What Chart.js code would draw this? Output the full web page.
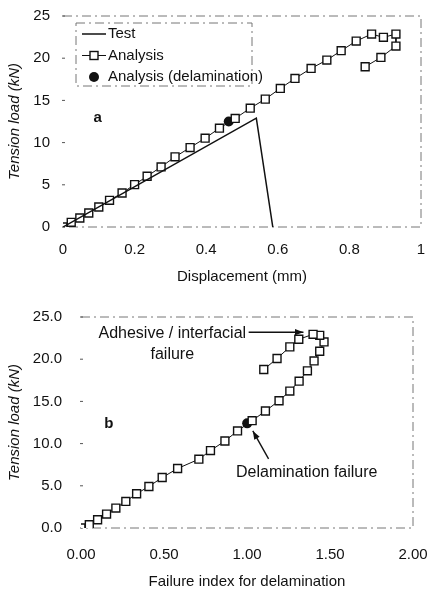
<!DOCTYPE html>
<html>
<head>
<meta charset="utf-8">
<script src="https://cdn.jsdelivr.net/npm/chart.js@4/dist/chart.umd.min.js"></script>
<style>
    body { margin: 0; background: #fff; width: 430px; height: 591px; overflow: hidden; }
    .box { position: absolute; left: 0; width: 430px; }
    #boxA { top: 0; height: 290px; }
    #boxB { top: 290px; height: 301px; }
</style>
</head>
<body>
<div class="box" id="boxA"><canvas id="chartA"></canvas></div>
<div class="box" id="boxB"><canvas id="chartB"></canvas></div>
<script>

/* Data: (a) load vs displacement */

const testDisp = [0, 0.54, 0.586];
const testLoad = [0, 12.9, 0];

const analysisDisp = [0, 0.023, 0.047, 0.072, 0.10, 0.13, 0.165, 0.20, 0.235, 0.274, 0.313, 0.355, 0.397, 0.437, 0.481, 0.523, 0.565, 0.607, 0.648, 0.693, 0.737, 0.777, 0.819, 0.862, 0.895, 0.930, 0.930, 0.888, 0.844];
const analysisLoadA = [0, 0.55, 1.07, 1.66, 2.37, 3.16, 4.03, 5.02, 6.01, 7.12, 8.31, 9.41, 10.52, 11.71, 12.86, 14.08, 15.15, 16.42, 17.6, 18.79, 19.78, 20.89, 22.03, 22.86, 22.47, 22.86, 21.44, 20.09, 18.99];

const delamDisp = [0.463];
const delamLoadA = [12.5];

const dispTicks = [0, 0.2, 0.4, 0.6, 0.8, 1];
const loadTicks = [0, 5, 10, 15, 20, 25];

/* Data: (b) load vs failure index */

const failureIndex = [0, 0.05, 0.10, 0.154, 0.21, 0.27, 0.335, 0.409, 0.489, 0.582, 0.71, 0.78, 0.867, 0.943, 1.031, 1.111, 1.193, 1.258, 1.314, 1.364, 1.404, 1.438, 1.464, 1.438, 1.398, 1.312, 1.258, 1.181, 1.101];
const analysisLoadB = [0, 0.39, 0.98, 1.65, 2.36, 3.15, 4.06, 4.92, 5.98, 7.05, 8.15, 9.17, 10.31, 11.5, 12.72, 13.86, 15.08, 16.22, 17.4, 18.62, 19.8, 20.94, 22.05, 22.83, 22.95, 22.36, 21.46, 20.08, 18.78];

const delamIndex = [1.001];
const delamLoadB = [12.4];

const indexTicks = [0, 0.5, 1.0, 1.5, 2.0];

const ink = "#111";
const font = "'Liberation Sans', Arial, sans-serif";

const toPoints = (xs, ys) => xs.map((x, i) => ({ x: x, y: ys[i] }));

/* dash-dot frame on top, right and bottom + small ticks on the left */

const framePlugin = {
    id: "frame",
    beforeDatasetsDraw(chart) {
        const a = chart.chartArea;
        const ctx = chart.ctx;
        ctx.save();
        ctx.strokeStyle = "#777";
        ctx.lineWidth = 1;
        ctx.setLineDash([9, 4, 2, 4]);
        ctx.beginPath();
        ctx.moveTo(a.left, a.top);
        ctx.lineTo(a.right, a.top);
        ctx.lineTo(a.right, a.bottom);
        ctx.lineTo(a.left, a.bottom);
        ctx.stroke();
        ctx.setLineDash([]);
        ctx.strokeStyle = "#555";
        chart.scales.y.ticks.forEach(t => {
            const y = chart.scales.y.getPixelForValue(t.value);
            ctx.beginPath();
            ctx.moveTo(a.left - 1, y);
            ctx.lineTo(a.left + 2, y);
            ctx.stroke();
        });
        ctx.restore();
    }
};

/* text labels, legend box and arrows */

const notesPlugin = {
    id: "notes",
    afterDraw(chart, args, opts) {
        const ctx = chart.ctx;
        const sx = chart.scales.x;
        const sy = chart.scales.y;
        ctx.save();
        ctx.fillStyle = ink;
        ctx.strokeStyle = ink;

        (opts.labels || []).forEach(l => {
            ctx.font = (l.bold ? "bold " : "") + (l.size || 15) + "px " + font;
            ctx.textAlign = l.align || "left";
            ctx.textBaseline = "middle";
            ctx.fillText(l.text, sx.getPixelForValue(l.x), sy.getPixelForValue(l.y));
        });

        (opts.arrows || []).forEach(ar => {
            const x1 = sx.getPixelForValue(ar.from[0]), y1 = sy.getPixelForValue(ar.from[1]);
            const x2 = sx.getPixelForValue(ar.to[0]), y2 = sy.getPixelForValue(ar.to[1]);
            const ang = Math.atan2(y2 - y1, x2 - x1);
            ctx.lineWidth = 1.4;
            ctx.beginPath();
            ctx.moveTo(x1, y1);
            ctx.lineTo(x2, y2);
            ctx.stroke();
            ctx.beginPath();
            ctx.moveTo(x2, y2);
            ctx.lineTo(x2 - 9 * Math.cos(ang - 0.35), y2 - 9 * Math.sin(ang - 0.35));
            ctx.lineTo(x2 - 9 * Math.cos(ang + 0.35), y2 - 9 * Math.sin(ang + 0.35));
            ctx.closePath();
            ctx.fill();
        });

        if (opts.legend) {
            const lg = opts.legend;
            ctx.strokeStyle = "#777";
            ctx.lineWidth = 1;
            ctx.setLineDash([9, 4, 2, 4]);
            ctx.strokeRect(lg.left, lg.top, lg.width, lg.height);
            ctx.setLineDash([]);
            ctx.font = "15px " + font;
            ctx.textAlign = "left";
            ctx.textBaseline = "middle";
            chart.data.datasets.forEach((ds, i) => {
                const y = lg.top + 11 + i * 21.5;
                const mx = lg.left + 18;
                ctx.strokeStyle = ink;
                ctx.fillStyle = ink;
                if (ds.showLine !== false) {
                    ctx.lineWidth = ds.borderWidth || 1;
                    ctx.beginPath();
                    ctx.moveTo(mx - 12, y);
                    ctx.lineTo(mx + 12, y);
                    ctx.stroke();
                }
                if (ds.pointRadius > 0) {
                    ctx.lineWidth = ds.pointBorderWidth || 1;
                    ctx.fillStyle = ds.pointBackgroundColor;
                    ctx.strokeStyle = ds.pointBorderColor;
                    if (ds.pointStyle === "rect") {
                        ctx.fillRect(mx - 4, y - 4, 8, 8);
                        ctx.strokeRect(mx - 4, y - 4, 8, 8);
                    } else {
                        ctx.beginPath();
                        ctx.arc(mx, y, ds.pointRadius, 0, Math.PI * 2);
                        ctx.fill();
                    }
                }
                ctx.fillStyle = ink;
                ctx.fillText(ds.label, lg.left + 32, y);
            });
        }
        ctx.restore();
    }
};

function analysisSet(points) {
    return {
        label: "Analysis",
        data: points,
        showLine: true,
        borderColor: ink,
        borderWidth: 1,
        pointStyle: "rect",
        pointRadius: 5.6,
        pointBackgroundColor: "#fff",
        pointBorderColor: ink,
        pointBorderWidth: 1.4
    };
}

function delamSet(points) {
    return {
        label: "Analysis (delamination)",
        data: points,
        showLine: false,
        pointStyle: "circle",
        pointRadius: 5,
        pointBackgroundColor: ink,
        pointBorderColor: ink,
        pointBorderWidth: 0
    };
}

// fixed axis sizes, and no extra room for the edge labels
function fixSize(s, w, h) {
    if (w) s.width = w;
    if (h) s.height = h;
    s.paddingTop = 0;
    s.paddingBottom = 0;
    s.paddingLeft = 0;
    s.paddingRight = 0;
}

function axes(o) {
    return {
        x: {
            type: "linear",
            min: o.xMin, max: o.xMax,
            afterFit: s => fixSize(s, 0, o.xHeight),
            afterBuildTicks: s => { s.ticks = o.xTicks.map(v => ({ value: v })); },
            grid: { display: false, drawTicks: false },
            border: { display: false },
            ticks: {
                padding: o.xPad,
                maxRotation: 0,
                color: ink,
                font: { family: font, size: 15 },
                callback: o.xFormat
            },
            title: {
                display: true,
                text: o.xTitle,
                color: ink,
                font: { family: font, size: 15 },
                padding: { top: 0, bottom: o.xTitlePad }
            }
        },
        y: {
            type: "linear",
            min: 0, max: 25,
            afterFit: s => fixSize(s, o.yWidth, 0),
            afterBuildTicks: s => { s.ticks = loadTicks.map(v => ({ value: v })); },
            grid: { display: false, drawTicks: false },
            border: { display: false },
            ticks: {
                padding: o.yPad,
                color: ink,
                font: { family: font, size: 15 },
                callback: o.yFormat
            },
            title: {
                display: true,
                text: "Tension load (kN)",
                color: ink,
                font: { family: font, size: 15, style: "italic" },
                padding: { top: 6, bottom: 0 }
            }
        }
    };
}

/* Chart a */

new Chart(document.getElementById("chartA"), {
    type: "scatter",
    data: {
        datasets: [
            {
                label: "Test",
                data: toPoints(testDisp, testLoad),
                showLine: true,
                borderColor: ink,
                borderWidth: 1.5,
                pointRadius: 0
            },
            analysisSet(toPoints(analysisDisp, analysisLoadA)),
            delamSet(toPoints(delamDisp, delamLoadA))
        ]
    },
    options: {
        responsive: true,
        maintainAspectRatio: false,
        animation: false,
        layout: { padding: { left: 0, right: 9, top: 16, bottom: 0 } },
        plugins: {
            legend: { display: false },
            tooltip: { enabled: false },
            notes: {
                labels: [{ text: "a", x: 0.085, y: 12.9, bold: true }],
                legend: { left: 76, top: 23, width: 176, height: 63 }
            }
        },
        scales: axes({
            xMin: 0, xMax: 1, xTicks: dispTicks, xHeight: 63, xPad: 14,
            xTitle: "Displacement (mm)", xTitlePad: 4, yWidth: 63, yPad: 13,
            xFormat: v => String(v), yFormat: v => String(v)
        })
    },
    plugins: [framePlugin, notesPlugin]
});

/* Chart b */

new Chart(document.getElementById("chartB"), {
    type: "scatter",
    data: {
        datasets: [
            analysisSet(toPoints(failureIndex, analysisLoadB)),
            delamSet(toPoints(delamIndex, delamLoadB))
        ]
    },
    options: {
        responsive: true,
        maintainAspectRatio: false,
        animation: false,
        layout: { padding: { left: 0, right: 17, top: 27, bottom: 0 } },
        plugins: {
            legend: { display: false },
            tooltip: { enabled: false },
            notes: {
                labels: [
                    { text: "b", x: 0.14, y: 12.3, bold: true },
                    { text: "Adhesive / interfacial", x: 0.55, y: 23.0, align: "center", size: 16 },
                    { text: "failure", x: 0.55, y: 20.6, align: "center", size: 16 },
                    { text: "Delamination failure", x: 1.36, y: 6.6, align: "center", size: 16 }
                ],
                arrows: [
                    { from: [1.01, 23.2], to: [1.34, 23.2] },
                    { from: [1.13, 8.2], to: [1.035, 11.5] }
                ]
            }
        },
        scales: axes({
            xMin: 0, xMax: 2, xTicks: indexTicks, xHeight: 63, xPad: 18,
            xTitle: "Failure index for delamination", xTitlePad: 0, yWidth: 81, yPad: 19,
            xFormat: v => v.toFixed(2), yFormat: v => v.toFixed(1)
        })
    },
    plugins: [framePlugin, notesPlugin]
});

</script>
</body>
</html>
